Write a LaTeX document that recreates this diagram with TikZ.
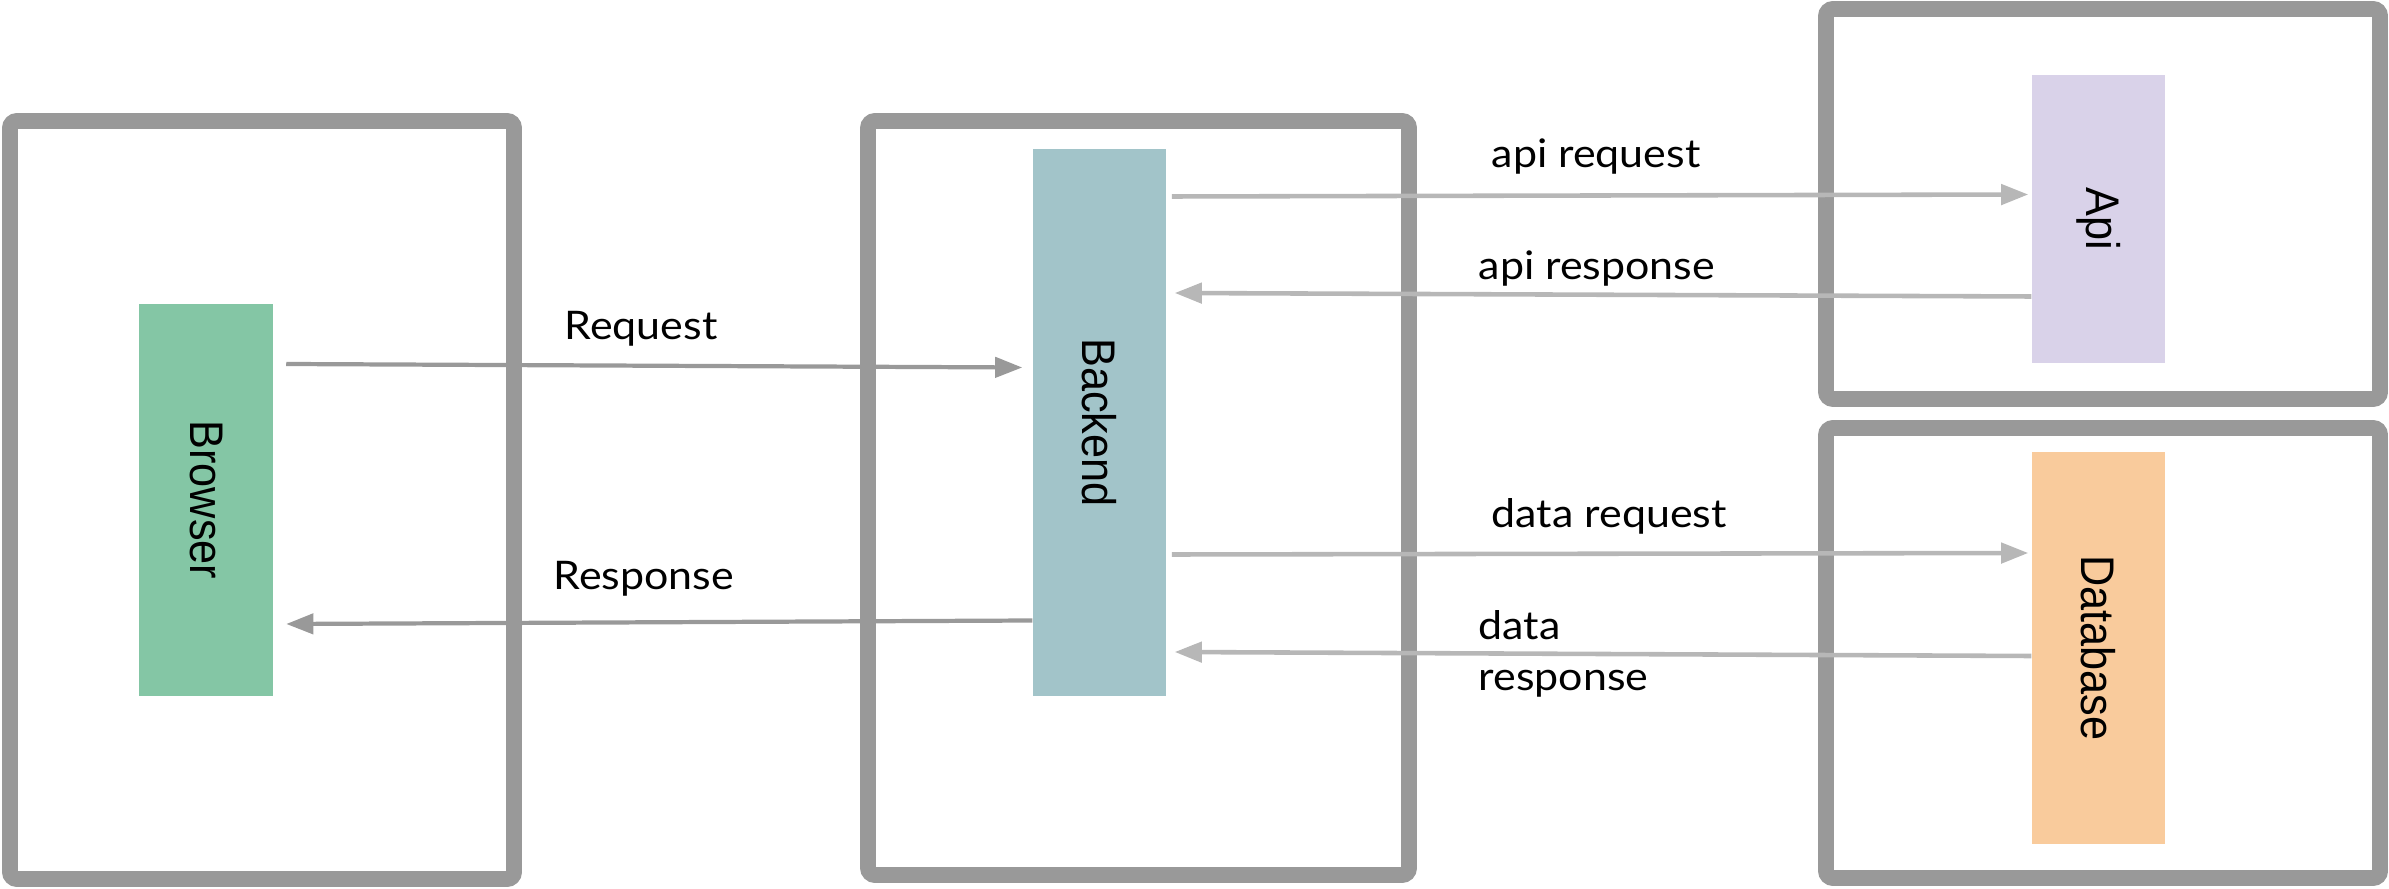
\documentclass[tikz,border=0pt]{standalone}
\usepackage{fontspec}
\setmainfont{Lato}[FakeStretch=1.09]
\newfontfamily\boxfont{Liberation Sans}
\usetikzlibrary{arrows.meta}
\definecolor{framegray}{HTML}{999999}
\definecolor{linkgray}{HTML}{B7B7B7}
\definecolor{browsergreen}{HTML}{84C6A5}
\definecolor{backendblue}{HTML}{A2C4C9}
\definecolor{apipurple}{HTML}{D9D2E9}
\definecolor{dborange}{HTML}{F9CB9C}
\newcommand{\sidetext}[1]{\scalebox{1.09}[1]{\rotatebox{-90}{#1}}}
\tikzset{>={Triangle[length=7.7pt,width=5.7pt]}}
\tikzset{frame/.style={draw=framegray, line width=4.5pt, rounded corners=2pt}}
\tikzset{block/.style={minimum width=1.33cm, inner sep=0pt, font=\boxfont\fontsize{12.3}{14}\selectfont}}
\tikzset{flow/.style={->, draw=framegray, line width=1.2pt}}
\tikzset{sideflow/.style={->, draw=linkgray, line width=1.3pt}}
\tikzset{tag/.style={anchor=base west, inner sep=0pt, font=\fontsize{11.2}{14}\selectfont}}

\begin{document}
\begin{tikzpicture}[x=0.01cm, y=-0.01cm]
    \useasboundingbox (0,0) rectangle (2389,889);
    % outer frames
    \draw[frame] (10,121) rectangle (514,879);
    \draw[frame] (868,121) rectangle (1409,875);
    \draw[frame] (1826,9) rectangle (2380,399);
    \draw[frame] (1826,428) rectangle (2380,878);
    % blocks
    \node[block, fill=browsergreen, minimum height=3.92cm] (browser) at (206,500) {\sidetext{Browser}};
    \node[block, fill=backendblue, minimum height=5.47cm] (backend) at (1099.5,422.5) {\sidetext{Backend}};
    \node[block, fill=apipurple, minimum height=2.88cm] (api) at (2098.5,219) {\sidetext{Api}};
    \node[block, fill=dborange, minimum height=3.92cm] (database) at (2098.5,648) {\sidetext{Database}};
    % browser <-> backend
    \draw[flow] ([shift={(13,-136)}]browser.east) -- ([shift={(-10,-55)}]backend.west);
    \draw[flow] ([shift={(0,198)}]backend.west) -- ([shift={(13,124)}]browser.east);
    % backend <-> api / database
    \draw[sideflow] ([shift={(5,-226)}]backend.east) -- ([shift={(-3,-24.5)}]api.west);
    \draw[sideflow] ([shift={(0,77.5)}]api.west) -- ([shift={(8,-129.5)}]backend.east);
    \draw[sideflow] ([shift={(5,132)}]backend.east) -- ([shift={(-3,-95)}]database.west);
    \draw[sideflow] ([shift={(0,8)}]database.west) -- ([shift={(8,229.5)}]backend.east);
    % labels
    \node[tag] (reqtag) at (564,340) {Request};
    \node[tag] (restag) at (553,590) {Response};
    \node[tag] (apireqtag) at (1491,168) {api request};
    \node[tag] (apirestag) at (1478,280) {api response};
    \node[tag] (datareqtag) at (1491,528) {data request};
    \node[tag] (dataresA) at (1478,640) {data};
    \node[tag] (dataresB) at (1478,690) {response};
\end{tikzpicture}
\end{document}
